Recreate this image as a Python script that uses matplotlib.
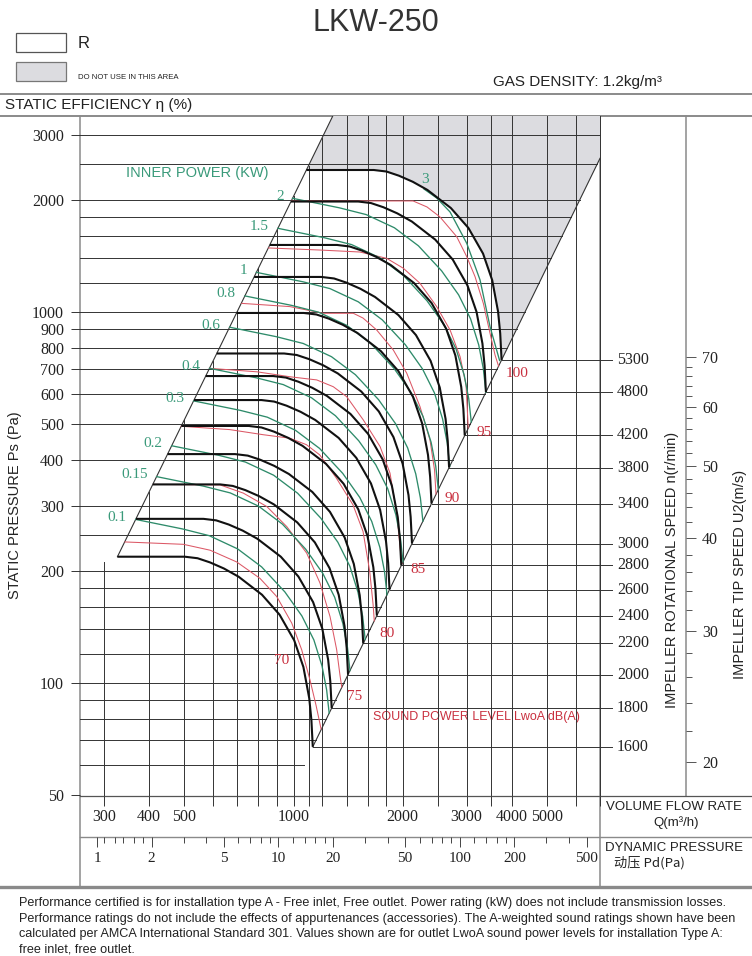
import numpy as np
import matplotlib.pyplot as plt
from matplotlib.patches import Rectangle
from matplotlib.ticker import NullFormatter, NullLocator

plt.rcParams['font.family'] = ['Liberation Sans', 'DejaVu Sans']
SERIF = ['Liberation Serif', 'DejaVu Serif']

# ---------------- values ----------------
p_grid = [60, 70, 80, 90, 100, 120, 140, 160, 180, 200, 250, 300, 400, 500,
          600, 700, 800, 900, 1000, 1200, 1400, 1600, 1800, 2000, 2500, 3000]
p_ticks = [50, 100, 200, 300, 400, 500, 600, 700, 800, 900, 1000, 2000, 3000]
q_grid = [300, 400, 500, 600, 700, 800, 900, 1000, 1100, 1200, 1400, 1600,
          1800, 2000, 2500, 3000, 3500, 4000, 5000, 6000, 7000]
q_ticks = [300, 400, 500, 1000, 2000, 3000, 4000, 5000]
pd_ticks = [1, 2, 5, 10, 20, 50, 100, 200, 500]
pd_minor = [1.1, 1.25, 1.4, 1.6, 1.8, 3, 4, 6, 7, 8, 9, 12, 14, 16, 18, 30, 40,
            60, 70, 80, 90, 120, 140, 160, 180, 300, 400]
u2_ticks = [20, 30, 40, 50, 60, 70]
u2_minor = [22, 24, 26, 28, 32, 34, 36, 38, 42, 44, 46, 48, 52, 54, 56, 58,
            62, 64, 66, 68]

# edges of the selection band
upper_edge_q = [327, 1283]
upper_edge_p = [219, 3375]
lower_edge_q = [1130, 7000]
lower_edge_p = [67.3, 2596]
grid_left_top_pa = 212

# speed curves (black)
rpm = [1600, 1800, 2000, 2200, 2400, 2600, 2800, 3000, 3400, 3800, 4200, 4800, 5300]
rpm_shutoff_pa = [219, 277, 343, 414, 493, 579, 672, 773, 994, 1243, 1516, 1985, 2414]
rpm_end_pa = [67.3, 85.6, 105.4, 127.8, 152.0, 178.6, 207.4, 237.7, 304.6,
              380.9, 464.7, 608.5, 742.4]
# shape of a speed curve between its ends, as fraction of the log span
rpm_shape_u = [0, 0.345, 0.41, 0.474, 0.545, 0.62, 0.74, 0.83, 0.905, 0.952, 0.982, 0.993, 1]
rpm_shape_v = [0, 0, 0.008, 0.03, 0.062, 0.105, 0.2, 0.305, 0.44, 0.58, 0.745, 0.86, 1]

# inner power curves (green)
kw = [0.1, 0.15, 0.2, 0.3, 0.4, 0.6, 0.8, 1, 1.5, 2]
kw_start_pa = [276, 360, 436, 576, 705, 910, 1105, 1279, 1681, 2025]
kw_end_pa = [82.9, 108, 131, 173, 212, 273, 332, 384, 505, 608]
kw_shape_u = [0, 0.242, 0.381, 0.527, 0.651, 0.771, 0.859, 0.921, 0.963, 0.987, 1]
kw_shape_v = [0, 0.049, 0.084, 0.152, 0.245, 0.374, 0.498, 0.622, 0.756, 0.880, 1]
kw3_q = [2290, 2482, 2702, 3003, 3268, 3482, 3700]
kw3_p = [2145, 2029, 1860, 1532, 1220, 913, 740]
kw3_label = (2297, 2269)

# sound power curves (red)
db = [70, 75, 80, 85, 90, 95, 100]
db_q = [[343, 497, 589, 697, 808, 899, 989, 1053, 1110, 1154, 1191],
        [411, 627, 727, 844, 958, 1087, 1183, 1261, 1315, 1343, 1358],
        [490, 667, 824, 976, 1085, 1181, 1312, 1459, 1555, 1622, 1657, 1670],
        [587, 792, 978, 1159, 1287, 1402, 1557, 1732, 1845, 1925, 1966, 1990],
        [720, 978, 1208, 1462, 1555, 1696, 1884, 2052, 2232, 2378, 2448, 2471],
        [853, 1183, 1525, 1807, 2008, 2232, 2482, 2702, 2879, 2990, 3032],
        [987, 1431, 2136, 2334, 2534, 2818, 3003, 3166, 3337, 3482, 3594, 3675]]
db_p = [[240, 236.5, 228, 212, 191.5, 171, 145, 123, 102, 87, 75.2],
        [343, 342, 325, 299, 264, 224, 186, 151, 123, 105, 97.5],
        [492, 482, 467, 457, 439, 412, 357, 302, 256, 200, 163, 147],
        [705, 690, 669, 656, 629, 591, 512, 434, 368, 287, 233, 210],
        [1055, 1034, 992, 992, 963, 894, 790, 684, 556, 452, 375, 323],
        [1488, 1469, 1451, 1395, 1312, 1195, 1034, 894, 758, 636, 487],
        [1992, 1992, 1992, 1919, 1804, 1596, 1410, 1245, 1055, 876, 766, 715]]
db_label_q = [930, 1477, 1810, 2204, 2735, 3352, 4133]
db_label_p = [115, 92, 136, 202, 315, 472, 681]

footer = [
    "Performance certified is for installation type A - Free inlet, Free outlet. Power rating (kW) does not include transmission losses.",
    "Performance ratings do not include the effects of appurtenances (accessories). The A-weighted sound ratings shown have been",
    "calculated per AMCA International Standard 301. Values shown are for outlet LwoA sound power levels for installation Type A:",
    "free inlet, free outlet.",
]

# ---------------- layout ----------------
W, H = 752, 956
AX_BOX = (80, 116, 752, 796)
Q_LIM = (257.8, 18370)
P_LIM = (49.6, 3375)
GRID = '#333333'
FRAME = '#8a8a8a'
GREY = '#dcdce0'
BLACK = '#111111'
GREEN = '#2e8b6a'
GREEN_T = '#3a9a7a'
RED = '#dc5866'
RED_T = '#c9303f'
TXT = '#222222'


def box(l, t, r, b):
    return [l / W, 1 - b / H, (r - l) / W, (b - t) / H]


def q_at(px):
    f = (px - AX_BOX[0]) / (AX_BOX[2] - AX_BOX[0])
    return Q_LIM[0] * (Q_LIM[1] / Q_LIM[0]) ** f


def edge_q(p, eq, ep):
    lq, lp = np.log10(eq), np.log10(ep)
    return 10 ** (lq[0] + (np.log10(p) - lp[0]) * (lq[1] - lq[0]) / (lp[1] - lp[0]))


def edge_p(q, eq, ep):
    lq, lp = np.log10(eq), np.log10(ep)
    return 10 ** (lp[0] + (np.log10(q) - lq[0]) * (lp[1] - lp[0]) / (lq[1] - lq[0]))


def band_curve(u, v, p_start, p_end):
    q_start = edge_q(p_start, upper_edge_q, upper_edge_p)
    q_end = edge_q(p_end, lower_edge_q, lower_edge_p)
    q = q_start * (q_end / q_start) ** np.asarray(u)
    p = p_start * (p_end / p_start) ** np.asarray(v)
    return q, p


fig = plt.figure(figsize=(W / 100, H / 100), dpi=100)

# frame / table lines and header texts
fr = fig.add_axes([0, 0, 1, 1])
fr.set_xlim(0, W)
fr.set_ylim(H, 0)
fr.axis('off')
for y, x0, x1, lw in [(93.5, 0, W, 1.4), (116, 0, W, 1.4), (837, 80, W, 1.0), (887, 0, W, 2.4)]:
    fr.plot([x0, x1], [y, y], color=FRAME, lw=lw)
for x, y0, y1 in [(80, 116, 887), (600, 116, 887), (686, 116, 796)]:
    fr.plot([x, x], [y0, y1], color=FRAME, lw=1.1)
fr.plot([80, W], [796, 796], color='#555555', lw=0.9)

fr.text(376, 23, 'LKW-250', fontsize=22, ha='center', va='center', color='#333333')
fr.add_patch(Rectangle((15.8, 33.3), 50.4, 19, fc='white', ec='#555555', lw=0.9))
fr.text(78, 43.5, 'R', fontsize=12, va='center', color=TXT)
fr.add_patch(Rectangle((15.8, 62), 50.4, 18.7, fc=GREY, ec='#777777', lw=0.9))
fr.text(78, 77.5, 'DO NOT USE IN THIS AREA', fontsize=5.6, va='center', color=TXT)
fr.text(662, 82, 'GAS DENSITY: 1.2kg/m³', fontsize=11, ha='right', va='center', color=TXT)
fr.text(5, 105, 'STATIC EFFICIENCY η (%)', fontsize=11, va='center', color=TXT)
fr.text(15, 505, 'STATIC PRESSURE Ps (Pa)', rotation=90, fontsize=10.5,
        ha='center', va='center', color=TXT)
fr.text(672, 570, 'IMPELLER ROTATIONAL SPEED n(r/min)', rotation=90, fontsize=10.5,
        ha='center', va='center', color=TXT)
fr.text(740, 574, 'IMPELLER TIP SPEED U2(m/s)', rotation=90, fontsize=10.5,
        ha='center', va='center', color=TXT)
fr.text(674, 807, 'VOLUME FLOW RATE', fontsize=9.5, ha='center', va='center', color=TXT)
fr.text(676, 823, 'Q(m³/h)', fontsize=9.5, ha='center', va='center', color=TXT)
fr.text(674, 848, 'DYNAMIC PRESSURE', fontsize=9.5, ha='center', va='center', color=TXT)
fr.text(614, 863, '动压 Pd(Pa)', fontsize=9.5, ha='left', va='center', color=TXT,
        family=['Noto Sans CJK SC', 'Liberation Sans'])
fr.text(126.5, 172.7, 'INNER POWER (KW)', fontsize=10.5, ha='left', va='center', color=GREEN_T)
fr.text(372.7, 717.3, 'SOUND POWER LEVEL LwoA dB(A)', fontsize=9, ha='left', va='center', color=RED_T)
for i, line in enumerate(footer):
    fr.text(19, 903 + i * 15.6, line, fontsize=9.1, ha='left', va='center', color=TXT)

# main chart
ax = fig.add_axes(box(*AX_BOX))
ax.set_xscale('log')
ax.set_yscale('log')
ax.set_xlim(*Q_LIM)
ax.set_ylim(*P_LIM)
ax.patch.set_visible(False)
for s in ax.spines.values():
    s.set_visible(False)

# "do not use" area above the top speed curve
top_q, top_p = band_curve(rpm_shape_u, rpm_shape_v, rpm_shutoff_pa[-1], rpm_end_pa[-1])
q_top = edge_q(P_LIM[1], upper_edge_q, upper_edge_p)
gq = [q_top, q_grid[-1], lower_edge_q[1]] + list(top_q[::-1])
gp = [P_LIM[1], P_LIM[1], lower_edge_p[1]] + list(top_p[::-1])
ax.fill(gq, gp, color=GREY, lw=0, zorder=1)

# grid
for p in p_grid:
    q_end = min(edge_q(p, lower_edge_q, lower_edge_p), q_grid[-1])
    ax.plot([Q_LIM[0], q_end], [p, p], color=GRID, lw=0.7, zorder=2)
for q in q_grid:
    if q < upper_edge_q[0]:
        top = grid_left_top_pa
    else:
        top = min(edge_p(q, upper_edge_q, upper_edge_p), P_LIM[1])
    ax.plot([q, q], [P_LIM[0], top], color=GRID, lw=0.7, zorder=2)
ax.plot(upper_edge_q, upper_edge_p, color=GRID, lw=0.8, zorder=3)
ax.plot(lower_edge_q, lower_edge_p, color=GRID, lw=0.8, zorder=3)

# speed lines to the rpm scale
for n, pe in zip(rpm, rpm_end_pa):
    qe = edge_q(pe, lower_edge_q, lower_edge_p)
    ax.plot([qe, q_at(612)], [pe, pe], color=GRID, lw=0.7, zorder=2)
    ax.text(q_at(617), pe, str(n), fontsize=11.5, family=SERIF, ha='left', va='center',
            color=TXT)

# sound power curves
for level, qs, ps in zip(db, db_q, db_p):
    ax.plot(qs, ps, color=RED, lw=0.75, zorder=4)
for level, lq, lp in zip(db, db_label_q, db_label_p):
    ax.text(lq, lp, str(level), fontsize=11, family=SERIF, color=RED_T,
            ha='center', va='center', zorder=7)

# inner power curves
for k, ps, pe in zip(kw, kw_start_pa, kw_end_pa):
    q, p = band_curve(kw_shape_u, kw_shape_v, ps, pe)
    ax.plot(q, p, color=GREEN, lw=0.95, zorder=5)
    ax.annotate(f'{k:g}', (q[0], p[0]), xytext=(-6.5, 1.5), textcoords='offset points',
                fontsize=11, family=SERIF, color=GREEN_T, ha='right', va='center', zorder=7)
ax.plot(kw3_q, kw3_p, color=GREEN, lw=0.95, zorder=5)
ax.text(*kw3_label, '3', fontsize=11, family=SERIF, color=GREEN_T, ha='center', va='center', zorder=7)

# speed curves
for ps, pe in zip(rpm_shutoff_pa, rpm_end_pa):
    q, p = band_curve(rpm_shape_u, rpm_shape_v, ps, pe)
    ax.plot(q, p, color=BLACK, lw=1.5, zorder=6, solid_capstyle='butt')

# axes ticks
ax.set_yticks(p_ticks, labels=[str(v) for v in p_ticks])
ax.yaxis.set_minor_locator(NullLocator())
ax.set_xticks(q_ticks, labels=[str(v) for v in q_ticks])
ax.set_xticks([v for v in q_grid if v not in q_ticks], minor=True)
ax.xaxis.set_minor_formatter(NullFormatter())
ax.tick_params(axis='y', which='both', direction='out', length=6.5, width=0.7, color=GRID,
               pad=5, labelsize=11.5, labelcolor=TXT, labelfontfamily='Liberation Serif')
ax.tick_params(axis='x', which='both', direction='out', length=7.2, width=0.7, color=GRID,
               pad=2.5, labelsize=11.5, labelcolor=TXT, labelfontfamily='Liberation Serif')

# tip speed scale
ax_u = fig.add_axes(box(600, 116, 686, 796))
ax_u.set_yscale('log')
ax_u.set_ylim(18.0, 147.7)
ax_u.patch.set_visible(False)
for s in ax_u.spines.values():
    s.set_visible(False)
ax_u.set_xticks([])
ax_u.yaxis.tick_right()
ax_u.set_yticks(u2_ticks, labels=[str(v) for v in u2_ticks])
ax_u.set_yticks(u2_minor, minor=True)
ax_u.yaxis.set_minor_formatter(NullFormatter())
ax_u.tick_params(axis='y', which='major', length=7.2, width=0.7, color='#555555', pad=4.3,
                 labelsize=11.5, labelcolor=TXT, labelfontfamily='Liberation Serif')
ax_u.tick_params(axis='y', which='minor', length=4.3, width=0.7, color='#555555')

# dynamic pressure scale
ax_pd = fig.add_axes(box(80, 837, 752, 887))
ax_pd.set_xscale('log')
ax_pd.set_xlim(0.806, 4082)
ax_pd.set_yticks([])
ax_pd.patch.set_visible(False)
for s in ax_pd.spines.values():
    s.set_visible(False)
ax_pd.xaxis.tick_top()
ax_pd.set_xticks(pd_ticks, labels=[str(v) for v in pd_ticks])
ax_pd.set_xticks(pd_minor, minor=True)
ax_pd.xaxis.set_minor_formatter(NullFormatter())
ax_pd.tick_params(axis='x', which='both', direction='in', top=True, bottom=False,
                  labeltop=True, labelbottom=False, width=0.7, color='#444444', pad=-20,
                  labelsize=11, labelcolor=TXT, labelfontfamily='Liberation Serif')
ax_pd.tick_params(axis='x', which='major', length=7.2)
ax_pd.tick_params(axis='x', which='minor', length=4.3)

fig.savefig('out.png', dpi=100)
